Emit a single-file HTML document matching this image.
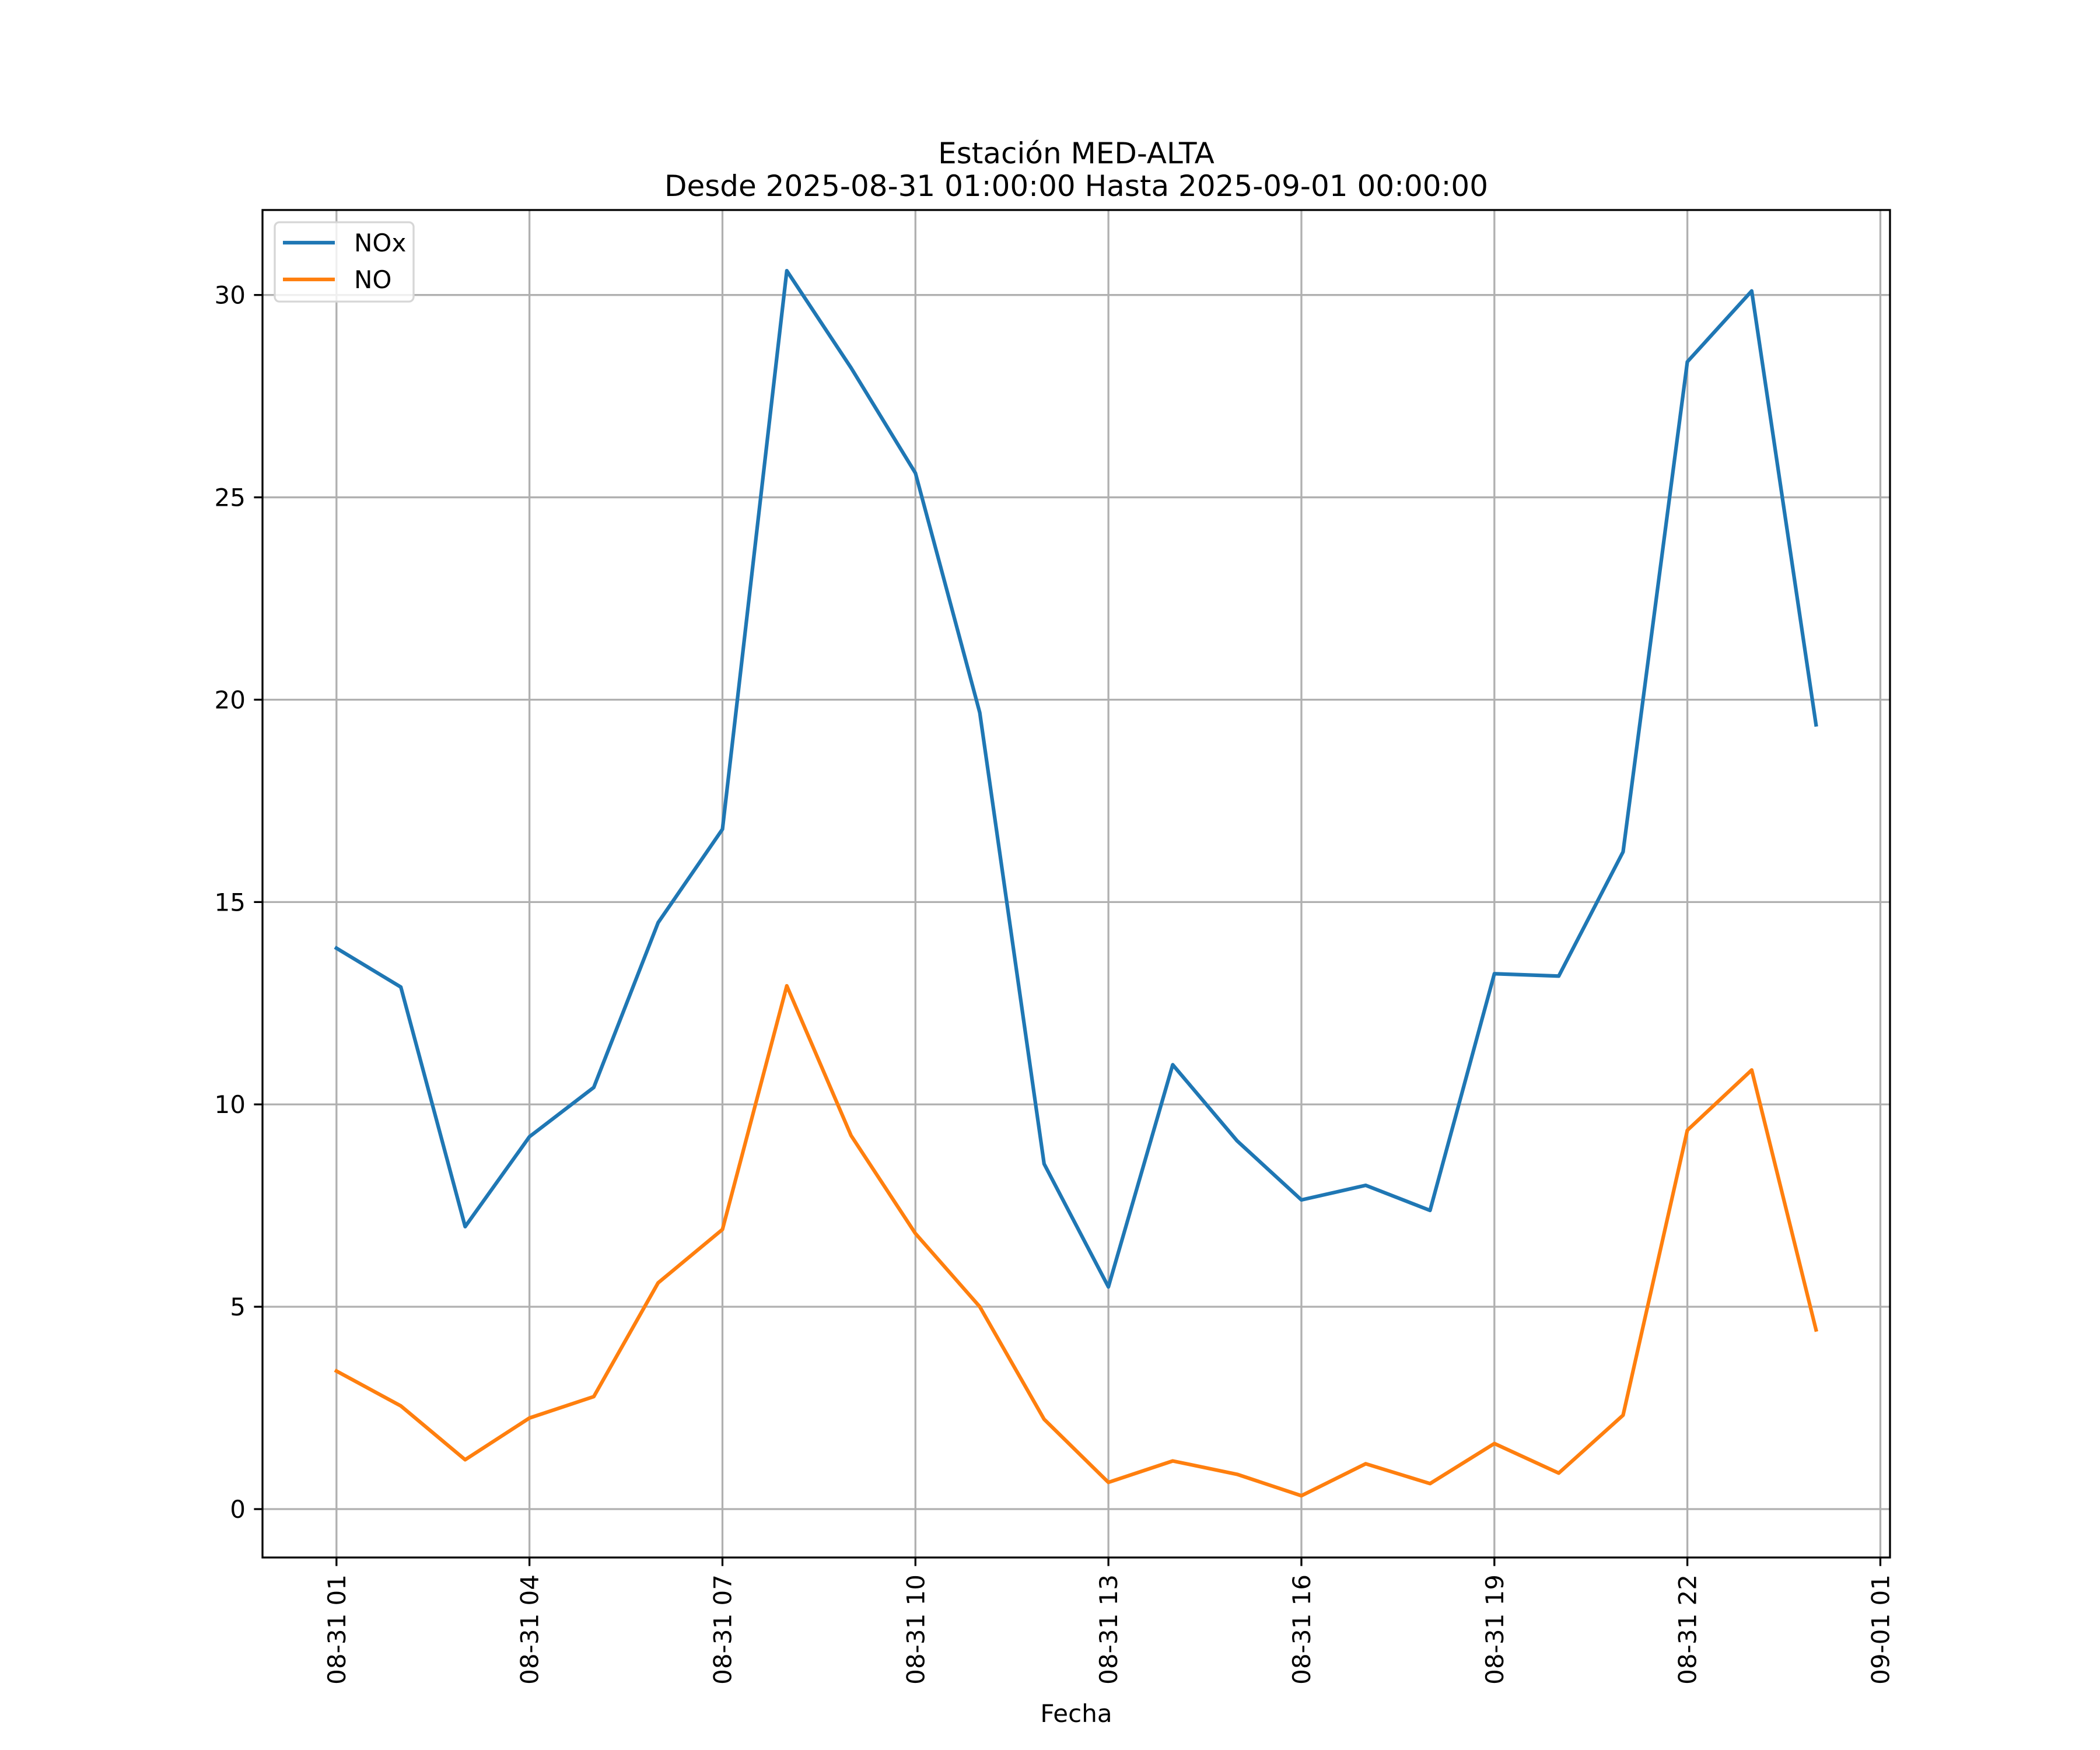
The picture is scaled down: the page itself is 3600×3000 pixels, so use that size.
<!DOCTYPE html>
<html><head><meta charset="utf-8"><style>
html,body{margin:0;padding:0;background:#fff;}
svg{display:block;font-family:"DejaVu Sans","Liberation Sans",sans-serif;}
</style></head><body>
<svg id="chart" width="3600" height="3000" viewBox="0 0 3600 3000" xmlns="http://www.w3.org/2000/svg">
<rect x="0" y="0" width="3600" height="3000" fill="#fff"/>
<text x="1845" y="280" font-size="50" text-anchor="middle">Estación MED-ALTA</text>
<text x="1845" y="336" font-size="50" text-anchor="middle">Desde 2025-08-31 01:00:00 Hasta 2025-09-01 00:00:00</text>
<g id="grid"></g>
<g id="series"></g>
<rect x="450" y="360" width="2790" height="2310" fill="none" stroke="#000" stroke-width="3.3"/>
<g id="ticks"></g>
<text x="1845" y="2952" font-size="42" text-anchor="middle">Fecha</text>
<g>
<rect x="471" y="381" width="238" height="136" rx="8" fill="#fff" fill-opacity="0.8" stroke="#d6d6d6" stroke-width="3.3"/>
<line x1="485" y1="416" x2="574" y2="416" stroke="#1f77b4" stroke-width="6.25"/>
<text x="607" y="431" font-size="42">NOx</text>
<line x1="485" y1="479" x2="574" y2="479" stroke="#ff7f0e" stroke-width="6.25"/>
<text x="607" y="494" font-size="42">NO</text>
</g>
</svg>
<script>
const hours = [0,1,2,3,4,5,6,7,8,9,10,11,12,13,14,15,16,17,18,19,20,21,22,23];
const noxValues = [13.86,12.9,6.98,9.2,10.42,14.49,16.8,30.6,28.2,25.6,19.68,8.53,5.49,10.98,9.1,7.64,8.0,7.38,13.23,13.17,16.24,28.35,30.1,19.38];
const noValues = [3.41,2.55,1.22,2.25,2.78,5.59,6.91,12.93,9.23,6.81,5.0,2.22,0.66,1.19,0.86,0.33,1.12,0.63,1.62,0.89,2.32,9.36,10.85,4.43];
const xTickHours = [0,3,6,9,12,15,18,21,24];
const xTickLabels = ["08-31 01","08-31 04","08-31 07","08-31 10","08-31 13","08-31 16","08-31 19","08-31 22","09-01 01"];
const yTicks = [0,5,10,15,20,25,30];

const L=450,R=3240,T=360,B=2670;
const xMin=-1.15,xMax=24.15,yMin=-1.196,yMax=32.10;
const xs=h=>L+(h-xMin)/(xMax-xMin)*(R-L);
const ys=v=>B-(v-yMin)/(yMax-yMin)*(B-T);
const NS="http://www.w3.org/2000/svg";
function mk(tag,attrs,parent){const e=document.createElementNS(NS,tag);for(const k in attrs)e.setAttribute(k,attrs[k]);parent.appendChild(e);return e;}
const grid=document.getElementById('grid'),ticks=document.getElementById('ticks'),series=document.getElementById('series');

xTickHours.forEach((h,i)=>{
  const x=xs(h);
  const g=mk('line',{x1:x,y1:T,x2:x,y2:B,stroke:'#b0b0b0','stroke-width':3.3},grid);
  
  
  const t=mk('line',{x1:x,y1:B,x2:x,y2:B+14.6,stroke:'#000','stroke-width':3.3},ticks);
  
  
  const lb=mk('text',{x:0,y:0,'font-size':42,'text-anchor':'end',transform:`translate(${x+15},${B+29}) rotate(-90)`},ticks);
  lb.textContent=xTickLabels[i];
  
  
});
yTicks.forEach(v=>{
  const y=ys(v);
  const g=mk('line',{x1:L,y1:y,x2:R,y2:y,stroke:'#b0b0b0','stroke-width':3.3},grid);
  
  
  const t=mk('line',{x1:L-14.6,y1:y,x2:L,y2:y,stroke:'#000','stroke-width':3.3},ticks);
  
  
  const lb=mk('text',{x:L-29,y:y+15,'font-size':42,'text-anchor':'end'},ticks);
  lb.textContent=String(v);
  
  
});
function line(vals,color,name){
  const pts=hours.map((h,i)=>xs(h).toFixed(1)+','+ys(vals[i]).toFixed(1)).join(' ');
  const p=mk('polyline',{points:pts,fill:'none',stroke:color,'stroke-width':6.25,'stroke-linejoin':'round','stroke-linecap':'square'},series);
  
  
}
line(noxValues,'#1f77b4','nox-line');
line(noValues,'#ff7f0e','no-line');
</script>
</body></html>
